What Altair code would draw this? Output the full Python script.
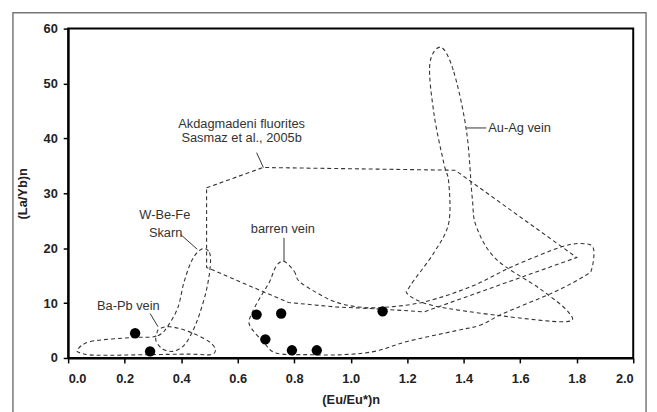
import altair as alt
import pandas as pd

# ---- sample points ----
pt_x = [0.237, 0.29, 0.667, 0.754, 0.698, 0.792, 0.88, 1.113]
pt_y = [4.5, 1.2, 7.9, 8.1, 3.4, 1.4, 1.4, 8.5]

# ---- Akdagmadeni fluorites field (straight polygon) ----
fluor_x = [0.49, 0.69, 1.37, 1.80, 1.26, 1.11, 0.946, 0.78, 0.49]
fluor_y = [31.0, 34.7, 34.2, 18.3, 8.4, 8.9, 9.3, 10.1, 16.5]

# ---- smooth fields ----
auag_x = [1.32, 1.365, 1.41, 1.43, 1.445, 1.515, 1.67, 1.77, 1.76, 1.53, 1.295, 1.205,
          1.21, 1.295, 1.347, 1.347, 1.33, 1.295, 1.28]
auag_y = [56.6, 52.1, 41.3, 29.3, 23.9, 18.0, 12.6, 8.4, 6.6, 7.7, 9.5, 11.5,
          13.1, 19.2, 24.6, 32.0, 35.4, 44.4, 53.5]

barren_x = [0.764, 0.80, 0.817, 0.876, 0.946, 1.026, 1.11, 1.26, 1.43, 1.574, 1.75, 1.83,
            1.86, 1.853, 1.83, 1.72, 1.54, 1.46, 1.375, 1.2, 1.085, 0.97, 0.85, 0.736,
            0.69, 0.642, 0.65, 0.677, 0.712, 0.736]
barren_y = [17.6, 15.8, 14.0, 12.0, 10.2, 9.3, 9.2, 10.2, 13.1, 16.7, 20.3, 20.8,
            19.8, 16.2, 15.0, 12.0, 8.1, 6.0, 5.0, 3.0, 1.2, 0.6, 0.6, 0.9,
            3.0, 6.0, 8.1, 10.8, 13.8, 16.7]

skarn_x = [0.475, 0.50, 0.503, 0.49, 0.465, 0.44, 0.41, 0.37, 0.33, 0.31, 0.342, 0.387, 0.41, 0.44]
skarn_y = [19.9, 19.2, 16.7, 12.5, 8.0, 4.8, 2.3, 1.2, 1.8, 3.6, 5.0, 9.0, 13.8, 18.0]

bapb_x = [0.033, 0.079, 0.219, 0.306, 0.318, 0.358, 0.428, 0.498, 0.521, 0.504, 0.428, 0.277, 0.10, 0.044]
bapb_y = [1.5, 3.0, 3.7, 3.9, 5.1, 5.7, 4.8, 3.0, 1.5, 0.6, 0.7, 0.6, 0.5, 0.9]

# ---- annotation texts ----
ctext = ["Akdagmadeni fluorites", "Sasmaz et al., 2005b", "W-Be-Fe", "Skarn", "barren vein", "Ba-Pb vein"]
ctext_x = [0.614, 0.614, 0.342, 0.345, 0.76, 0.213]
ctext_y = [42.6, 40.1, 26.0, 22.8, 23.5, 9.5]
ltext = ["Au-Ag vein"]
ltext_x = [1.487]
ltext_y = [41.9]

# ---- leader lines ----
lead_x = [0.667, 1.41, 0.398, 0.764, 0.29]
lead_y = [37.4, 41.9, 22.5, 21.9, 8.1]
lead_x2 = [0.691, 1.48, 0.457, 0.764, 0.318]
lead_y2 = [34.7, 41.9, 19.8, 17.6, 5.7]

FONT = "Liberation Sans"

rows = []
for name, xs, ys in [("Au-Ag", auag_x, auag_y), ("barren", barren_x, barren_y),
                     ("skarn", skarn_x, skarn_y), ("BaPb", bapb_x, bapb_y)]:
    for i, (a, b) in enumerate(zip(xs, ys)):
        rows.append({"shape": name, "i": i, "x": a, "y": b})
smooth_df = pd.DataFrame(rows)
fluor_df = pd.DataFrame({"x": fluor_x, "y": fluor_y, "i": list(range(len(fluor_x)))})
pts_df = pd.DataFrame({"x": pt_x, "y": pt_y})
ctext_df = pd.DataFrame({"t": ctext, "x": ctext_x, "y": ctext_y})
ltext_df = pd.DataFrame({"t": ltext, "x": ltext_x, "y": ltext_y})
lead_df = pd.DataFrame({"x": lead_x, "y": lead_y, "x2": lead_x2, "y2": lead_y2})

xscale = alt.Scale(domain=[0, 2], nice=False, zero=False)
yscale = alt.Scale(domain=[0, 60], nice=False)

xaxis = alt.Axis(values=[round(0.2 * k, 1) for k in range(11)], format=".1f",
                 title="(Eu/Eu*)n", grid=False)
yaxis = alt.Axis(values=list(range(0, 61, 10)), title="(La/Yb)n", grid=False)

X = alt.X("x:Q", scale=xscale, axis=xaxis)
Y = alt.Y("y:Q", scale=yscale, axis=yaxis)

frame = alt.Chart(pd.DataFrame({"a": [0]})).mark_rect(
    fill=None, stroke="#777777", strokeWidth=1.5
).encode(x=alt.value(-56), x2=alt.value(586), y=alt.value(-16), y2=alt.value(400))

smooth = alt.Chart(smooth_df).mark_line(
    interpolate="cardinal-closed", strokeDash=[4, 3], strokeWidth=1.1, color="#333333"
).encode(x=X, y=Y, detail="shape:N", order="i:Q")

fluor = alt.Chart(fluor_df).mark_line(
    interpolate="linear-closed", strokeDash=[4, 3], strokeWidth=1.1, color="#333333"
).encode(x=X, y=Y, order="i:Q")

leads = alt.Chart(lead_df).mark_rule(color="#333333", strokeWidth=1).encode(
    x=X, y=Y, x2="x2:Q", y2="y2:Q")

ctexts = alt.Chart(ctext_df).mark_text(font=FONT, fontSize=13, color="#333333",
                                       align="center", baseline="middle").encode(x=X, y=Y, text="t:N")
ltexts = alt.Chart(ltext_df).mark_text(font=FONT, fontSize=13, color="#333333",
                                       align="left", baseline="middle").encode(x=X, y=Y, text="t:N")

pts = alt.Chart(pts_df).mark_point(filled=True, color="black", size=110, opacity=1, shape="circle").encode(x=X, y=Y)

chart = alt.layer(frame, smooth, fluor, leads, ctexts, ltexts, pts).properties(
    width=573, height=334,
    autosize=alt.AutoSizeParams(type="none"),
    padding={"left": 61, "top": 18, "right": 16, "bottom": 60},
).configure_view(
    stroke="black", strokeWidth=2
).configure_axis(
    labelFont=FONT, titleFont=FONT, labelFontSize=13, titleFontSize=13,
    labelFontWeight="bold", titleFontWeight="bold",
    labelColor="#222222", titleColor="#222222",
    domainColor="black", domainWidth=2, tickColor="black", tickWidth=1.5, tickSize=5,
).configure_axisX(
    labelPadding=10, titlePadding=8
).configure_axisY(
    labelPadding=6, titlePadding=14
)

chart.save("out.html", embed_options={"renderer": "svg", "actions": False})
